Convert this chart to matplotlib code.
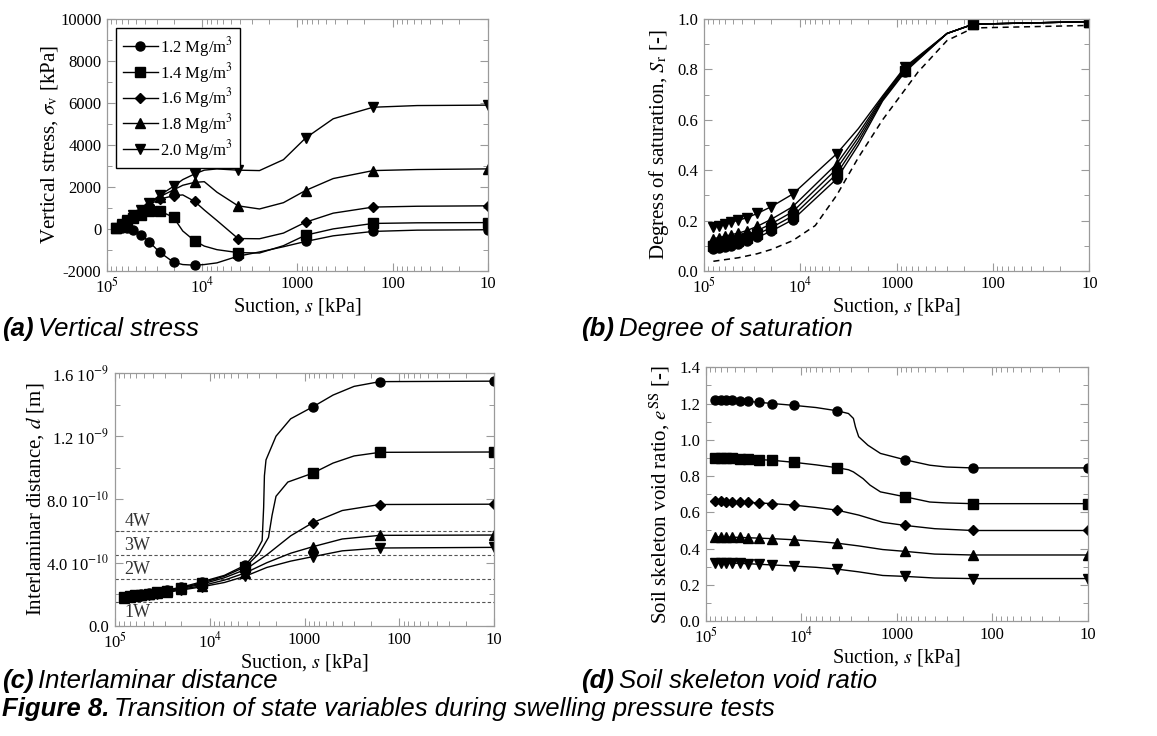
import numpy as np
import matplotlib
matplotlib.use('Agg')
import matplotlib.pyplot as plt
from matplotlib.ticker import MultipleLocator, LogLocator, NullFormatter, FormatStrFormatter

plt.rcParams['font.family'] = ['Liberation Serif', 'DejaVu Serif']
plt.rcParams['mathtext.fontset'] = 'stix'
plt.rcParams['axes.unicode_minus'] = False

# suction at the marked steps [kPa]
suction = [80000, 70000, 61000, 53000, 44000, 36000, 28000, 20000, 12000, 4200, 820, 160, 10]
labels = ['1.2 Mg/m$^3$', '1.4 Mg/m$^3$', '1.6 Mg/m$^3$', '1.8 Mg/m$^3$', '2.0 Mg/m$^3$']
markers = ['o', 's', 'D', '^', 'v']
msizes = [6.5, 6.5, 4.8, 6.5, 6.5]

# (a) vertical stress [kPa]
stress = [
    [40, 30, 30, -30, -270, -620, -1110, -1590, -1730, -1300, -600, -120, -40],
    [60, 200, 360, 520, 680, 850, 860, 550, -570, -1130, -300, 260, 300],
    [60, 220, 400, 610, 860, 1150, 1420, 1580, 1310, -460, 320, 1040, 1100],
    [60, 230, 420, 630, 890, 1200, 1530, 1860, 2220, 1100, 1830, 2780, 2860],
    [60, 230, 420, 640, 900, 1230, 1600, 2030, 2620, 2800, 4330, 5800, 5900],
]
stress_line_s = [16000, 9500, 7000, 2500, 1400, 420, 55]
stress_line = [
    [-1700, -1700, -1620, -1100, -850, -330, -60],
    [-100, -820, -990, -1150, -800, 0, 290],
    [1620, 900, 400, -470, -200, 750, 1080],
    [2080, 2250, 1750, 950, 1250, 2400, 2830],
    [2350, 2800, 2860, 2780, 3300, 5250, 5880],
]

# (b) degree of saturation [-]
satur = [
    [0.085, 0.089, 0.094, 0.100, 0.107, 0.117, 0.133, 0.158, 0.203, 0.365, 0.79, 0.98, 0.99],
    [0.098, 0.102, 0.107, 0.113, 0.120, 0.130, 0.146, 0.172, 0.218, 0.385, 0.795, 0.98, 0.99],
    [0.112, 0.116, 0.121, 0.127, 0.134, 0.144, 0.160, 0.187, 0.235, 0.405, 0.80, 0.98, 0.99],
    [0.128, 0.132, 0.137, 0.143, 0.150, 0.160, 0.177, 0.205, 0.255, 0.425, 0.805, 0.98, 0.99],
    [0.175, 0.180, 0.186, 0.193, 0.201, 0.211, 0.228, 0.255, 0.305, 0.465, 0.81, 0.98, 0.99],
]
satur_line_s = [2500, 1400, 300]
satur_line = [
    [0.50, 0.675, 0.943],
    [0.515, 0.68, 0.943],
    [0.53, 0.685, 0.943],
    [0.545, 0.69, 0.943],
    [0.565, 0.695, 0.943],
]
dash_s = [80000, 44000, 28000, 20000, 12000, 7000, 4200, 2500, 1400, 820, 600, 300, 160, 10]
dash_sr = [0.038, 0.052, 0.068, 0.085, 0.12, 0.18, 0.30, 0.45, 0.60, 0.72, 0.79, 0.915, 0.965, 0.975]

# (c) interlaminar distance [1e-10 m]
dist = [
    [1.85, 1.90, 1.95, 2.00, 2.07, 2.15, 2.28, 2.45, 2.80, 3.85, 13.85, 15.45, 15.48],
    [1.83, 1.88, 1.93, 1.98, 2.04, 2.12, 2.24, 2.41, 2.72, 3.74, 9.66, 10.98, 11.0],
    [1.82, 1.86, 1.91, 1.96, 2.02, 2.10, 2.21, 2.37, 2.65, 3.57, 6.53, 7.68, 7.70],
    [1.80, 1.84, 1.89, 1.94, 2.00, 2.07, 2.17, 2.32, 2.55, 3.36, 5.01, 5.73, 5.75],
    [1.78, 1.82, 1.87, 1.92, 1.97, 2.04, 2.13, 2.27, 2.48, 3.15, 4.38, 4.93, 4.97],
]
dist_line = [
    ([7000, 3300, 2800, 2700, 2650, 2550, 2000, 1400, 500, 300],
     [3.2, 4.6, 5.4, 7.5, 9.5, 10.5, 12.0, 13.1, 14.6, 15.15]),
    ([7000, 3000, 2400, 2200, 2000, 1500, 500, 300],
     [3.15, 4.6, 5.6, 7.0, 8.2, 9.1, 10.3, 10.75]),
    ([7000, 2500, 1400, 400], [3.05, 4.5, 5.7, 7.3]),
    ([7000, 2500, 1400, 400], [2.9, 4.0, 4.6, 5.5]),
    ([7000, 2500, 1400, 400], [2.75, 3.7, 4.1, 4.75]),
]
water_layers = [1.5, 3.0, 4.5, 6.0]
water_names = ['1W', '2W', '3W', '4W']

# (d) soil skeleton void ratio [-]
voids = [
    [1.22, 1.22, 1.22, 1.218, 1.216, 1.212, 1.207, 1.200, 1.19, 1.16, 0.89, 0.845, 0.845],
    [0.90, 0.90, 0.898, 0.897, 0.896, 0.894, 0.891, 0.887, 0.876, 0.846, 0.686, 0.648, 0.648],
    [0.66, 0.66, 0.659, 0.658, 0.657, 0.655, 0.652, 0.648, 0.64, 0.612, 0.528, 0.50, 0.50],
    [0.465, 0.465, 0.464, 0.463, 0.462, 0.46, 0.458, 0.455, 0.449, 0.43, 0.385, 0.365, 0.365],
    [0.322, 0.322, 0.321, 0.32, 0.319, 0.317, 0.314, 0.31, 0.304, 0.287, 0.247, 0.235, 0.235],
]
voids_line = [
    ([7000, 3200, 2840, 2700, 2500, 2000, 1480, 450, 300],
     [1.178, 1.145, 1.118, 1.07, 1.017, 0.97, 0.925, 0.86, 0.85]),
    ([7000, 3200, 2840, 2250, 1900, 1480, 450, 300],
     [0.862, 0.835, 0.823, 0.786, 0.75, 0.713, 0.657, 0.652]),
    ([7000, 2500, 1400, 400], [0.627, 0.585, 0.545, 0.51]),
    ([7000, 2500, 1400, 400], [0.44, 0.415, 0.395, 0.37]),
    ([7000, 2500, 1400, 400], [0.297, 0.272, 0.252, 0.238]),
]

fig = plt.figure(figsize=(11.57, 7.36), dpi=100)
ax_a = fig.add_axes([0.0925, 0.632, 0.329, 0.342])
ax_b = fig.add_axes([0.6085, 0.632, 0.333, 0.342])
ax_c = fig.add_axes([0.0994, 0.1495, 0.3276, 0.3438])
ax_d = fig.add_axes([0.610, 0.156, 0.330, 0.345])

frame = '#9a9a9a'


def style(ax):
    ax.set_xscale('log')
    ax.set_xlim(1e5, 10)
    ax.set_xticks([1e5, 1e4, 1e3, 1e2, 1e1])
    ax.set_xticklabels(['10$^5$', '10$^4$', '1000', '100', '10'])
    ax.xaxis.set_minor_locator(LogLocator(base=10, subs=np.arange(2, 10)))
    ax.xaxis.set_minor_formatter(NullFormatter())
    for sp in ax.spines.values():
        sp.set_color(frame)
        sp.set_linewidth(0.9)
    ax.tick_params(which='both', direction='in', top=True, right=True,
                   color=frame, labelsize=12, pad=4)
    ax.tick_params(which='major', length=6, width=0.8)
    ax.tick_params(which='minor', length=3.5, width=0.7)
    ax.set_xlabel('Suction, $s$ [kPa]', fontsize=14.5, labelpad=0)


def merged(s1, y1, s2, y2):
    s = list(s1) + list(s2)
    y = list(y1) + list(y2)
    order = np.argsort(s)[::-1]
    return np.array(s)[order], np.array(y)[order]


# (a)
for i in range(5):
    xs, ys = merged(suction, stress[i], stress_line_s, stress_line[i])
    ax_a.plot(xs, ys, color='black', lw=1)
    ax_a.plot(suction, stress[i], linestyle='none', color='black',
              marker=markers[i], ms=msizes[i])
handles = [plt.Line2D([], [], color='black', lw=1, marker=markers[i], ms=msizes[i])
           for i in range(5)]
style(ax_a)
ax_a.set_ylim(-2000, 10000)
ax_a.yaxis.set_major_locator(MultipleLocator(2000))
ax_a.yaxis.set_minor_locator(MultipleLocator(1000))
ax_a.set_ylabel('Vertical stress, $\\sigma_\\mathrm{v}$ [kPa]', fontsize=15, labelpad=0)
leg = ax_a.legend(handles, labels, loc='upper left', bbox_to_anchor=(0.024, 0.964),
                  borderaxespad=0, fontsize=12, frameon=True, fancybox=False,
                  framealpha=1, handlelength=2.1, borderpad=0.4, labelspacing=0.1,
                  handletextpad=0.15)
leg.get_frame().set_edgecolor('black')
leg.get_frame().set_linewidth(1.0)
leg.set_zorder(10)

# (b)
for i in range(5):
    xs, ys = merged(suction, satur[i], satur_line_s, satur_line[i])
    ax_b.plot(xs, ys, color='black', lw=1)
    ax_b.plot(suction, satur[i], linestyle='none', color='black',
              marker=markers[i], ms=msizes[i])
ax_b.plot(dash_s, dash_sr, color='black', lw=1.1, linestyle=(0, (4, 3)))
style(ax_b)
ax_b.set_ylim(0, 1)
ax_b.yaxis.set_major_locator(MultipleLocator(0.2))
ax_b.yaxis.set_minor_locator(MultipleLocator(0.1))
ax_b.yaxis.set_major_formatter(FormatStrFormatter('%.1f'))
ax_b.set_ylabel('Degress of saturation, $S_\\mathrm{r}$ [-]', fontsize=15, labelpad=5)

# (c)
for y, name in zip(water_layers, water_names):
    ax_c.axhline(y * 1e-10, color='#555555', lw=0.8, linestyle=(0, (3, 2)))
    if name == '1W':
        ax_c.text(8.0e4, y * 1e-10 - 0.08e-10, name, fontsize=13,
                  ha='left', va='top', color='#333333')
    else:
        ax_c.text(8.0e4, y * 1e-10 + 0.06e-10, name, fontsize=13,
                  ha='left', va='bottom', color='#333333')
for i in range(5):
    xs, ys = merged(suction, dist[i], dist_line[i][0], dist_line[i][1])
    ax_c.plot(xs, ys * 1e-10, color='black', lw=1)
    ax_c.plot(suction, np.array(dist[i]) * 1e-10, linestyle='none', color='black',
              marker=markers[i], ms=msizes[i])
style(ax_c)
ax_c.set_ylim(0, 1.6e-9)
ax_c.set_yticks([0, 4e-10, 8e-10, 1.2e-9, 1.6e-9])
ax_c.set_yticklabels(['0.0', '4.0 10$^{-10}$', '8.0 10$^{-10}$', '1.2 10$^{-9}$', '1.6 10$^{-9}$'])
ax_c.yaxis.set_minor_locator(MultipleLocator(2e-10))
ax_c.set_ylabel('Interlaminar distance, $d$ [m]', fontsize=15, labelpad=0)

# (d)
for i in range(5):
    xs, ys = merged(suction, voids[i], voids_line[i][0], voids_line[i][1])
    ax_d.plot(xs, ys, color='black', lw=1)
    ax_d.plot(suction, voids[i], linestyle='none', color='black',
              marker=markers[i], ms=msizes[i])
style(ax_d)
ax_d.set_ylim(0, 1.4)
ax_d.yaxis.set_major_locator(MultipleLocator(0.2))
ax_d.yaxis.set_minor_locator(MultipleLocator(0.1))
ax_d.yaxis.set_major_formatter(FormatStrFormatter('%.1f'))
ax_d.set_ylabel('Soil skeleton void ratio, $e^\\mathrm{SS}$ [-]', fontsize=15, labelpad=5)

# captions
cap_font = ['Liberation Sans', 'DejaVu Sans']
renderer = fig.canvas.get_renderer()


def caption(x_px, y_px, bold, rest, size=18.5):
    x = x_px / 1157
    y = 1 - y_px / 736
    t = fig.text(x, y, bold, fontsize=size, fontstyle='italic', fontweight='bold',
                 family=cap_font, va='center', ha='left')
    bb = t.get_window_extent(renderer=renderer)
    fig.text(bb.x1 / fig.bbox.width + 0.004, y, rest, fontsize=size, fontstyle='italic',
             family=cap_font, va='center', ha='left')


caption(2, 329, '(a)', 'Vertical stress')
caption(581, 329, '(b)', 'Degree of saturation')
caption(2, 681, '(c)', 'Interlaminar distance')
caption(581, 681, '(d)', 'Soil skeleton void ratio')
caption(2, 709, 'Figure 8.', 'Transition of state variables during swelling pressure tests')

fig.savefig('out.png', dpi=100)
